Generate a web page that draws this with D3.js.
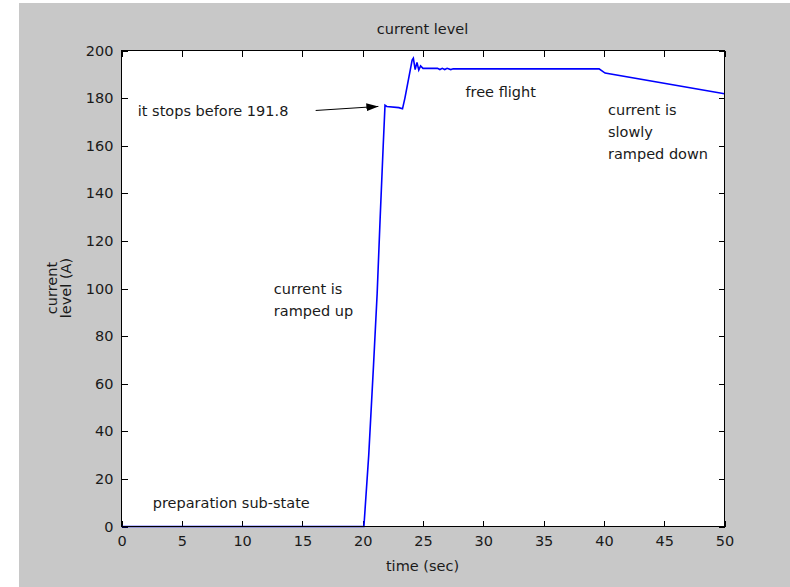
<!DOCTYPE html>
<html>
<head>
<meta charset="utf-8">
<script src="https://cdn.jsdelivr.net/npm/d3@7"></script>
<style>
  html, body { margin: 0; padding: 0; background: #fff; }
  svg text { font-family: "DejaVu Sans", sans-serif; font-size: 14.5px; fill: #1a1a1a; }
</style>
</head>
<body>
<div id="chart"></div>
<script>
// current level trace (time in sec, current in A)
const times = [0, 20.1, 20.5, 20.9, 21.2, 21.45, 21.7, 21.85, 22.0, 23.0, 23.3, 23.5, 23.8, 24.1, 24.2,
  24.35, 24.5, 24.65, 24.8, 25.0, 26.2, 26.4, 26.6, 26.8, 27.0, 27.3, 27.5, 39.6, 40.1, 50];
const current = [0, 0, 30, 68, 98, 130, 160, 177, 176.5, 176, 175.5, 180, 188, 196, 196.8,
  192, 195, 191.8, 193.5, 192.5, 192.5, 192, 192.5, 192, 192.5, 192, 192.3, 192.3, 190.5, 181.8];

const xTicks = [0, 5, 10, 15, 20, 25, 30, 35, 40, 45, 50];
const yTicks = [0, 20, 40, 60, 80, 100, 120, 140, 160, 180, 200];

const title = 'current level';
const xLabel = 'time (sec)';
const yLabel = ['current', 'level (A)'];

// annotations: text lines and where they sit in data units
const noteText = ['it stops before 191.8', 'current is', 'ramped up', 'free flight',
  'current is', 'slowly', 'ramped down', 'preparation sub-state'];
const noteT = [1.35, 12.63, 12.63, 28.52, 40.34, 40.34, 40.34, 2.59];
const noteV = [174.5, 99.9, 90.5, 182.5, 175, 165.8, 156.6, 10.1];

// arrow from text to the plateau
const arrowFrom = [16.1, 174.8];
const arrowTo = [21.3, 176.5];

const W = 790, H = 587;
const m = { top: 50, right: 66, bottom: 61, left: 121 };
const w = W - m.left - m.right,
  h = H - m.top - m.bottom;

const svg = d3.select('#chart')
  .append('svg')
  .attr('width', W)
  .attr('height', H);

// figure background
svg.append('rect')
  .attr('x', 19).attr('y', 3)
  .attr('width', W - 19).attr('height', H - 3)
  .attr('fill', '#c8c8c8');

const g = svg.append('g')
  .attr('transform', `translate(${m.left + 0.5}, ${m.top + 0.5})`);

g.append('rect')
  .attr('width', w).attr('height', h)
  .attr('fill', '#fff');

const x = d3.scaleLinear().domain([0, 50]).range([0, w]);
const y = d3.scaleLinear().domain([0, 200]).range([h, 0]);

function styleAxis(sel) {
  sel.select('.domain').remove();
  sel.selectAll('line').attr('stroke', '#000').attr('shape-rendering', 'crispEdges');
  sel.selectAll('text').style('font-size', '14.5px').attr('fill', '#1a1a1a');
}

g.append('g')
  .attr('transform', `translate(0, ${h})`)
  .call(d3.axisBottom(x).tickValues(xTicks).tickSizeInner(-6).tickSizeOuter(0).tickPadding(9))
  .call(styleAxis);

g.append('g')
  .call(d3.axisLeft(y).tickValues(yTicks).tickSizeInner(-6).tickSizeOuter(0).tickPadding(8))
  .call(styleAxis);

g.append('g')
  .call(d3.axisTop(x).tickValues(xTicks).tickSizeInner(-6).tickSizeOuter(0).tickFormat(''))
  .call(styleAxis);

g.append('g')
  .attr('transform', `translate(${w}, 0)`)
  .call(d3.axisRight(y).tickValues(yTicks).tickSizeInner(-6).tickSizeOuter(0).tickFormat(''))
  .call(styleAxis);

// the data line
const line = d3.line()
  .x((d, i) => x(times[i]))
  .y(d => y(d));

g.append('path')
  .datum(current)
  .attr('d', line)
  .attr('fill', 'none')
  .attr('stroke', '#0000ff')
  .attr('stroke-width', 1.6);

// frame
g.append('rect')
  .attr('width', w).attr('height', h)
  .attr('fill', 'none')
  .attr('stroke', '#000')
  .attr('shape-rendering', 'crispEdges');

// arrow
svg.append('defs').append('marker')
  .attr('id', 'head')
  .attr('viewBox', '0 0 12 8')
  .attr('refX', 12).attr('refY', 4)
  .attr('markerWidth', 12).attr('markerHeight', 8)
  .attr('markerUnits', 'userSpaceOnUse')
  .attr('orient', 'auto')
  .append('path')
  .attr('d', 'M0,0 L12,4 L0,8 Z')
  .attr('fill', '#000');

g.append('line')
  .attr('x1', x(arrowFrom[0])).attr('y1', y(arrowFrom[1]))
  .attr('x2', x(arrowTo[0])).attr('y2', y(arrowTo[1]))
  .attr('stroke', '#000')
  .attr('stroke-width', 1)
  .attr('marker-end', 'url(#head)');

// notes
g.selectAll('.note')
  .data(noteText)
  .enter()
  .append('text')
  .attr('class', 'note')
  .attr('x', (d, i) => x(noteT[i]))
  .attr('y', (d, i) => y(noteV[i]))
  .attr('dy', '0.35em')
  .text(d => d);

// title and labels
svg.append('text')
  .attr('x', m.left + w / 2)
  .attr('y', 29)
  .attr('dy', '0.35em')
  .attr('text-anchor', 'middle')
  .text(title);

svg.append('text')
  .attr('x', m.left + w / 2)
  .attr('y', 566)
  .attr('dy', '0.35em')
  .attr('text-anchor', 'middle')
  .text(xLabel);

const yl = svg.append('text')
  .attr('transform', `translate(59, ${m.top + h / 2}) rotate(-90)`)
  .attr('text-anchor', 'middle');
yl.selectAll('tspan')
  .data(yLabel)
  .enter()
  .append('tspan')
  .attr('x', 0)
  .attr('y', (d, i) => (i - 0.5) * 14)
  .attr('dy', '0.35em')
  .text(d => d);
</script>
</body>
</html>
